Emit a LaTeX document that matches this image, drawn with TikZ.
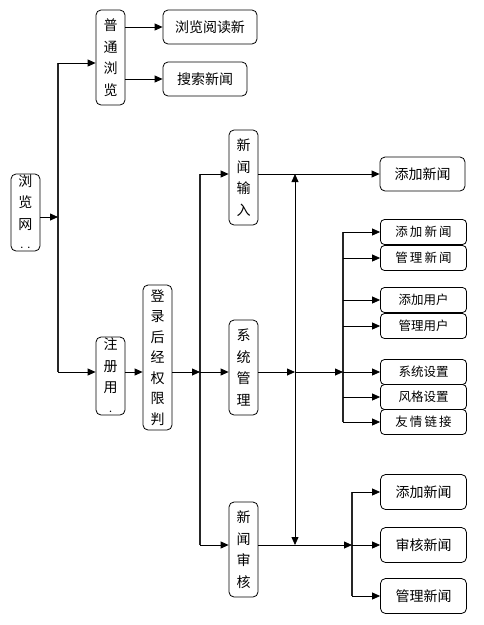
\documentclass[tikz,border=0pt]{standalone}
\usepackage{fontspec}
\newfontfamily\cjk{Noto Sans CJK SC}
\usetikzlibrary{arrows.meta}
\tikzset{
  link/.style={line width=.8pt,-{Triangle[length=8pt,width=7pt]}},
  bus/.style={line width=1.6pt,draw=black!85},
  tallbox/.style={draw,line width=.8pt,rounded corners=5pt,minimum width=29pt,
    inner sep=0pt,align=center,font=\fontsize{14}{21.5}\selectfont\cjk},
  widebox/.style={draw,line width=.8pt,rounded corners=5pt,minimum height=34pt,
    inner sep=0pt,font=\fontsize{14}{16}\selectfont\cjk},
  itembox/.style={draw,line width=.8pt,rounded corners=4pt,minimum width=86pt,
    minimum height=25pt,inner sep=0pt,font=\fontsize{12.5}{15}\selectfont\cjk},
}

\begin{document}
\begin{tikzpicture}[x=1pt,y=-1pt]
\useasboundingbox (0,0) rectangle (484,625);

% left column
\node[tallbox,minimum height=77pt] (web) at (25.5,212.5) {浏\\览\\网\\{\fontsize{7}{7}\selectfont ··}};
\node[tallbox,minimum height=95pt] (plain) at (110.5,57.5) {普\\通\\浏\\览};
\node[widebox,minimum width=94pt] (read) at (210,27) {浏览阅读新};
\node[widebox,minimum width=84pt] (search) at (205,79) {搜索新闻};
\node[tallbox,minimum height=78pt] (reg) at (110.5,376) {注\\册\\用\\{\fontsize{7}{7}\selectfont ·}};
\node[tallbox,minimum height=145pt,font=\fontsize{14}{20.5}\selectfont\cjk] (login) at (157.5,357.5) {登\\录\\后\\经\\权\\限\\判};

% second column
\node[tallbox,minimum height=95pt] (input) at (243.5,177.5) {新\\闻\\输\\入};
\node[tallbox,minimum height=95pt] (sys) at (243.5,367.5) {系\\统\\管\\理};
\node[tallbox,minimum height=95pt] (audit) at (243.5,549.5) {新\\闻\\审\\核};

% right column
\node[widebox,minimum width=85pt] (add) at (422.5,174) {添加新闻};
\foreach \name/\y/\txt in {m1/232/添\,加\,新\,闻, m2/258/管\,理\,新\,闻,
    m3/300/添加用户, m4/326/管理用户, m5/372/系统设置,
    m6/397/风格设置, m7/422/友\,情\,链\,接}
  \node[itembox] (\name) at (423.5,\y) {\txt};
\node[widebox,minimum width=86pt,minimum height=35pt] (b1) at (423.5,492) {添加新闻};
\node[widebox,minimum width=86pt,minimum height=35pt] (b2) at (423.5,545) {审核新闻};
\node[widebox,minimum width=86pt,minimum height=35pt] (b3) at (423.5,596) {管理新闻};

% bus lines
\coordinate (busA top) at (58,63);
\coordinate (busA bot) at (58,372);
\coordinate (busB top) at (200,174);
\coordinate (busB mid) at (200,372);
\coordinate (busB bot) at (200,545);
\coordinate (busC top) at (295,174);
\coordinate (busC mid) at (295,372);
\coordinate (busC bot) at (295,545);
\coordinate (busD top) at (343,232);
\coordinate (busD mid) at (343,372);
\coordinate (busD bot) at (343,422);
\coordinate (busE top) at (352,492);
\coordinate (busE mid) at (352,545);
\coordinate (busE bot) at (352,596);

\draw[bus] (busA top) -- (busA bot);
\draw[bus] (busB top) -- (busB bot);
\draw[bus] (busD top) -- (busD bot);
\draw[bus] (busE top) -- (busE bot);

% connectors
\draw[link] ([yshift=-4.5pt]web.east) -- ([yshift=-4.5pt]web.east -| busA top);
\draw[link] (busA top) -- (plain.west |- busA top);
\draw[link] (plain.east |- read) -- (read.west);
\draw[link] (plain.east |- search) -- (search.west);
\draw[link] (busA bot) -- (reg.west |- busA bot);
\draw[link] (reg.east |- busA bot) -- (login.west |- busA bot);
\draw[link] (login.east |- busB mid) -- (busB mid);
\draw[link] (busB top) -- (input.west |- busB top);
\draw[link] (busB mid) -- (sys.west |- busB mid);
\draw[link] (busB bot) -- (audit.west |- busB bot);
\draw[link] (input.east |- busC top) -- (add.west);
\draw[link] (busC mid) -- (busC top);
\draw[link] (busC mid) -- (busC bot);
\draw[link] (sys.east |- busC mid) -- (busC mid);
\draw[link] (busC mid) -- (busD mid);
\foreach \name in {m1,m2,m3,m4,m5,m6,m7}
  \draw[link] (\name.west -| busD top) -- (\name.west);
\draw[link] (audit.east |- busE mid) -- (busE mid);
\foreach \name in {b1,b2,b3}
  \draw[link] (\name.west -| busE top) -- (\name.west);
\end{tikzpicture}
\end{document}
